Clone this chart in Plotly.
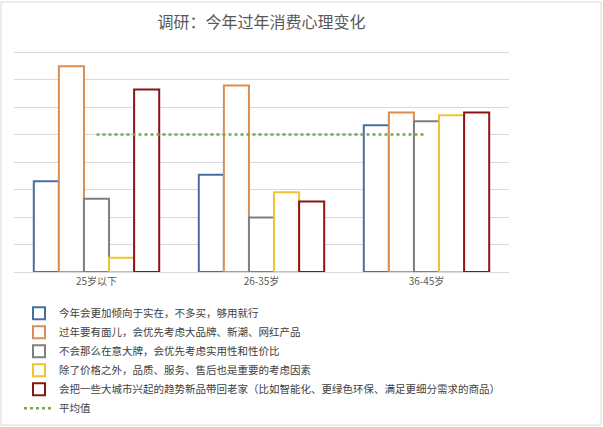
import plotly.graph_objects as go

# 年龄段
categories = ["25岁以下", "26-35岁", "36-45岁"]

# 各选项（数值从图上估读，单位未标注）
names = [
    "今年会更加倾向于实在，不多买，够用就行",
    "过年要有面儿，会优先考虑大品牌、新潮、网红产品",
    "不会那么在意大牌，会优先考虑实用性和性价比",
    "除了价格之外，品质、服务、售后也是重要的考虑因素",
    "会把一些大城市兴起的趋势新品带回老家（比如智能化、更绿色环保、满足更细分需求的商品）",
]
s_shizai = [16.5, 17.7, 26.7]
s_mianer = [37.4, 33.9, 29.0]
s_xingjiabi = [13.3, 9.9, 27.4]
s_pinzhi = [2.6, 14.5, 28.5]
s_xinpin = [33.2, 12.8, 29.0]
avg_name = "平均值"
avg_values = [25, 25, 25]

series = [s_shizai, s_mianer, s_xingjiabi, s_pinzhi, s_xinpin]
colors = ["#4A6EA0", "#DC8E52", "#7F7F7F", "#F2C230", "#8E1414"]

fig = go.Figure()
for name, vals, c in zip(names, series, colors):
    fig.add_trace(go.Bar(x=categories, y=vals, name=name,
                         marker=dict(color="white", line=dict(color=c, width=2))))

# 平均值虚线
fig.add_trace(go.Scatter(x=categories, y=avg_values, name=avg_name, mode="lines",
                         line=dict(color="#70AD47", width=2.5, dash="dot")))

fig.update_layout(
    width=603, height=427,
    paper_bgcolor="white", plot_bgcolor="white",
    margin=dict(l=14, r=94, t=49, b=155, autoexpand=False),
    font=dict(family="Noto Sans CJK SC", color="#595959", size=10),
    title=dict(text="调研：今年过年消费心理变化", x=(14 + 495 / 2) / 603, xanchor="center",
               y=1 - 22 / 427, yanchor="middle",
               font=dict(size=16, color="#595959")),
    barmode="group", bargap=0.24, bargroupgap=0,
    showlegend=True,
    legend=dict(x=5 / 495, y=-0.12, xanchor="left", yanchor="top",
                font=dict(size=10.5, color="#404040"), tracegroupgap=0,
                bgcolor="rgba(0,0,0,0)"),
    xaxis=dict(showgrid=False, showline=True, linecolor="#D9D9D9", linewidth=1,
               ticks="", tickfont=dict(size=10, color="#595959")),
    yaxis=dict(range=[0, 40.55], dtick=5, showgrid=True, gridcolor="#D9D9D9", gridwidth=1,
               showticklabels=False, zeroline=False, fixedrange=True),
)

# 整张图的浅灰外框
fig.add_shape(type="rect", xref="paper", yref="paper",
              x0=-13 / 495, x1=1 + 92 / 495, y0=-153 / 223, y1=1 + 47 / 223,
              line=dict(color="#D9D9D9", width=1), layer="below")

# 去掉页面默认边距，让图从左上角开始
fig.write_html("out.html", config={"displayModeBar": False},
               post_script="document.body.style.margin='0';")
